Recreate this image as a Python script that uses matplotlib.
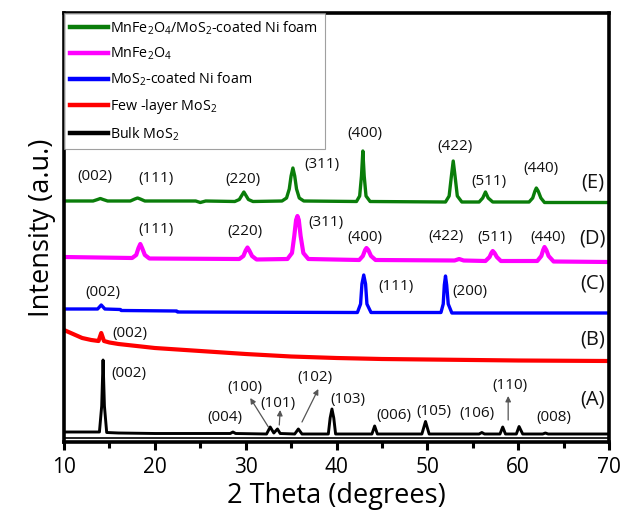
import matplotlib
matplotlib.use("Agg")
import matplotlib.pyplot as plt
from matplotlib.lines import Line2D
from matplotlib.ticker import MultipleLocator

plt.rcParams['font.family'] = ['Open Sans', 'DejaVu Sans']
plt.rcParams['mathtext.fontset'] = 'custom'
plt.rcParams['mathtext.rm'] = 'Open Sans'
plt.rcParams['mathtext.it'] = 'Open Sans:italic'
plt.rcParams['mathtext.default'] = 'rm'

# ---------------- data (2theta in degrees, intensity in arbitrary units) -------------
# (E) MnFe2O4/MoS2-coated Ni foam
e_x = [10, 13.2, 13.7, 14.0, 14.3, 14.8, 17.3, 17.8, 18.1, 18.4, 18.9, 24.5, 25.0, 25.6,
       28.8, 29.3, 29.6, 29.8, 30.0, 30.3, 30.8,
       34.0, 34.5, 34.8, 35.0, 35.2, 35.4, 35.6, 35.9, 36.4,
       42.2, 42.55, 42.75, 42.9, 43.05, 43.25, 43.7,
       52.0, 52.4, 52.65, 52.85, 53.05, 53.3, 53.8,
       55.7, 56.1, 56.4, 56.7, 57.2, 61.2, 61.6, 61.85, 62.0, 62.2, 62.5, 62.9, 70]
e_y = [315, 315, 316.5, 317.5, 316.5, 315, 315, 317, 318, 317, 315, 315, 313.5, 315,
       314.5, 316.5, 321, 324, 321, 316.5, 314.5,
       315, 318, 327, 340, 348, 340, 327, 318, 315,
       314.5, 320, 340, 365, 340, 320, 314.5,
       314, 320, 340, 355, 340, 320, 314,
       314, 318, 324, 318, 314, 314, 318, 325, 328, 325, 318, 313.5, 313.5]

# (D) MnFe2O4
d_x = [10, 17.5, 17.95, 18.2, 18.4, 18.6, 18.9, 19.4, 29.3, 29.75, 30.0, 30.2, 30.4, 30.7, 31.2,
       34.6, 35.1, 35.35, 35.55, 35.7, 35.85, 36.05, 36.35, 36.9, 42.5, 42.9, 43.15, 43.3, 43.5, 43.8, 44.3,
       53.0, 53.5, 54.0, 56.4, 56.85, 57.05, 57.2, 57.4, 57.65, 58.1,
       62.1, 62.55, 62.75, 62.9, 63.1, 63.35, 63.9, 70]
d_y = [259, 258, 261, 268, 272, 268, 261, 257.5, 257, 260, 265.5, 268.5, 265.5, 260, 256.5,
       257, 263, 280, 296, 300, 296, 280, 263, 257, 256, 260, 266, 268, 266, 260, 256,
       255.5, 257, 255.5, 255, 259, 263, 265, 263, 259, 255,
       255, 260, 266, 269, 266, 260, 254.5, 254]

# (C) MoS2-coated Ni foam
c_x = [10, 13.7, 14.1, 14.5, 16.2, 16.3, 22.4, 22.5, 42.3, 42.65, 42.8, 43.0, 43.2, 43.35, 43.8,
       51.5, 51.75, 51.87, 52.0, 52.13, 52.3, 52.7, 70]
c_y = [207, 207, 211, 207, 206.5, 205.5, 205, 204, 203.5, 212, 232, 241, 232, 212, 203.5,
       203.5, 212, 231, 240, 231, 212, 203, 203]

# (B) Few-layer MoS2
b_x = [10, 11, 12, 13, 13.8, 14.1, 14.4, 15, 16, 18, 20, 25, 30, 35, 40, 45, 50, 60, 70]
b_y = [186, 182, 178, 176, 175, 183, 175, 173.5, 172, 170, 168, 165, 162, 159.5, 158, 157,
       156.5, 155.5, 155]

# (A) Bulk MoS2
a_x = [10, 13.9, 14.15, 14.3, 14.45, 14.7, 16, 20, 25, 28.3, 28.6, 28.9, 32.3, 32.7, 33.1,
       33.5, 33.8, 35.4, 35.8, 36.2, 39.1, 39.3, 39.5, 39.7, 39.9, 43.9, 44.2, 44.5,
       49.4, 49.8, 50.2, 55.7, 56.0, 56.3, 58.0, 58.3, 58.6, 59.8, 60.1, 60.5, 62.7, 63.0, 63.3, 70]
a_y = [84, 84, 110, 156, 110, 83.5, 83, 82.5, 82.5, 82.5, 84, 82.5, 82, 89, 83,
       87, 82.5, 82, 87, 82, 82, 98, 107, 98, 82, 82, 90, 82,
       82, 94.5, 82, 82, 83.5, 82, 82, 89, 82, 82, 89.5, 82, 82, 83, 82, 82]

series_names = [r'MnFe$_2$O$_4$/MoS$_2$-coated Ni foam', r'MnFe$_2$O$_4$',
                r'MoS$_2$-coated Ni foam', r'Few -layer MoS$_2$', r'Bulk MoS$_2$']
series_colors = ['#0a7d0a', '#ff00ff', '#0000ff', '#ff0000', '#000000']

# peak labels: text, 2theta, intensity
peak_texts = ['(002)', '(111)', '(220)', '(311)', '(400)', '(422)', '(511)', '(440)',
              '(111)', '(220)', '(311)', '(400)', '(422)', '(511)', '(440)',
              '(002)', '(111)', '(200)',
              '(002)',
              '(002)', '(004)', '(100)', '(101)', '(102)', '(103)', '(006)', '(105)', '(106)',
              '(110)', '(008)']
peak_tx = [13.4, 20.1, 29.7, 38.4, 43.1, 53.0, 56.8, 62.5,
           20.1, 29.9, 38.8, 43.1, 52.1, 57.4, 63.3,
           14.3, 46.6, 54.7,
           17.3,
           17.1, 27.7, 29.9, 33.5, 37.6, 41.3, 46.3, 50.7, 55.5, 59.1, 63.9]
peak_ty = [339, 337, 336, 351, 382, 369, 334, 347,
           286, 284, 293, 278, 279, 278, 278,
           223, 229, 224,
           183,
           143, 99, 129, 113, 138, 117, 101, 104, 103, 130, 98]

pattern_labels = ['(E)', '(D)', '(C)', '(B)', '(A)']
pattern_ty = [333, 277, 232, 176, 117]

# arrows: (tail 2theta, tail intensity, head 2theta, head intensity)
arrows = [(32.5, 89, 30.5, 118), (33.7, 91, 33.8, 106), (36.2, 94, 38.0, 127), (58.9, 96, 58.9, 120)]

# ---------------- figure -------------
fig = plt.figure(figsize=(6.23, 5.16), dpi=100)
ax = fig.add_axes([64 / 623, (516 - 442) / 516, 545 / 623, (442 - 13) / 516])

xs = [e_x, d_x, c_x, b_x, a_x]
ys = [e_y, d_y, c_y, b_y, a_y]
lws = [2.4, 3.0, 2.4, 3.0, 2.1]
handles = []
for x, y, c, lw, name in zip(xs, ys, series_colors, lws, series_names):
    ax.plot(x, y, color=c, lw=lw, solid_joinstyle='round', label=name)
    handles.append(Line2D([], [], color=c, lw=3.2, label=name))

ax.axhline(78, color='black', lw=1.2)

for t, x, y in zip(peak_texts, peak_tx, peak_ty):
    ax.text(x, y, t, fontsize=11, ha='center', va='center', color='#111111')
for t, y in zip(pattern_labels, pattern_ty):
    ax.text(68.2, y, t, fontsize=14.5, ha='center', va='center', color='#111111')
for x0, y0, x1, y1 in arrows:
    ax.annotate('', xy=(x1, y1), xytext=(x0, y0),
                arrowprops=dict(arrowstyle='-|>', color='#555555', lw=0.9,
                                mutation_scale=8, shrinkA=0, shrinkB=0))

ax.set_xlim(10, 70)
ax.set_ylim(74, 503)
ax.xaxis.set_major_locator(MultipleLocator(10))
ax.xaxis.set_minor_locator(MultipleLocator(5))
ax.tick_params(axis='x', which='major', direction='out', length=6, width=2.2,
               labelsize=15, pad=5)
ax.tick_params(axis='x', which='minor', direction='out', length=4, width=2.2)
ax.set_yticks([])
for s in ax.spines.values():
    s.set_linewidth(2.6)

ax.set_xlabel('2 Theta (degrees)', fontsize=19.5, labelpad=3)
ax.set_ylabel('Intensity (a.u.)', fontsize=19.5, labelpad=6)

leg = ax.legend(handles=handles, loc='upper left', bbox_to_anchor=(0, 1),
                borderaxespad=0, fontsize=10.3, handlelength=2.6, handletextpad=0.2,
                labelspacing=0.62, borderpad=0.45, frameon=True, fancybox=False)
leg.get_frame().set_edgecolor('#888888')
leg.get_frame().set_linewidth(0.8)

fig.savefig('out.png', dpi=100)
